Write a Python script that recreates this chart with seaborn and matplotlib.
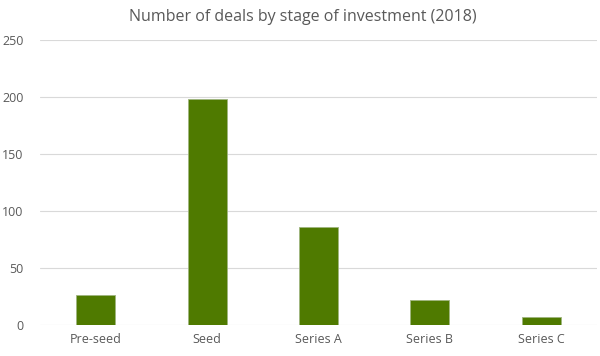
import matplotlib
matplotlib.use("Agg")
import matplotlib.pyplot as plt
import seaborn as sns
import pandas as pd

stages = ["Pre-seed", "Seed", "Series A", "Series B", "Series C"]
deals = [26, 198, 86, 22, 7]
title = "Number of deals by stage of investment (2018)"

sns.set_theme(style="white")
plt.rcParams["font.family"] = ["Open Sans", "DejaVu Sans"]

df = pd.DataFrame({"stage": stages, "deals": deals})

fig = plt.figure(figsize=(6, 3.56), dpi=100)
ax = fig.add_axes([0.0667, 0.088, 0.928, 0.80])
sns.barplot(data=df, x="stage", y="deals", color="#4f7a00", saturation=1,
            width=0.35, edgecolor="#9fb57f", linewidth=0.6, ax=ax, zorder=3)
ax.set_ylim(0, 250)
ax.set_xlim(-0.5, 4.5)
ax.set_yticks([0, 50, 100, 150, 200, 250])
ax.grid(axis="y", color="#d9d9d9", linewidth=0.8, zorder=0)
ax.grid(axis="x", visible=False)
for s in ax.spines.values():
    s.set_visible(False)
ax.set_xlabel("")
ax.set_ylabel("")
ax.tick_params(axis="both", length=0, labelsize=9, colors="#595959")
ax.tick_params(axis="y", pad=12)
ax.tick_params(axis="x", pad=6)
fig.suptitle(title, x=0.505, y=0.975, fontsize=11.5, color="#595959")
fig.savefig("out.png", dpi=100)
